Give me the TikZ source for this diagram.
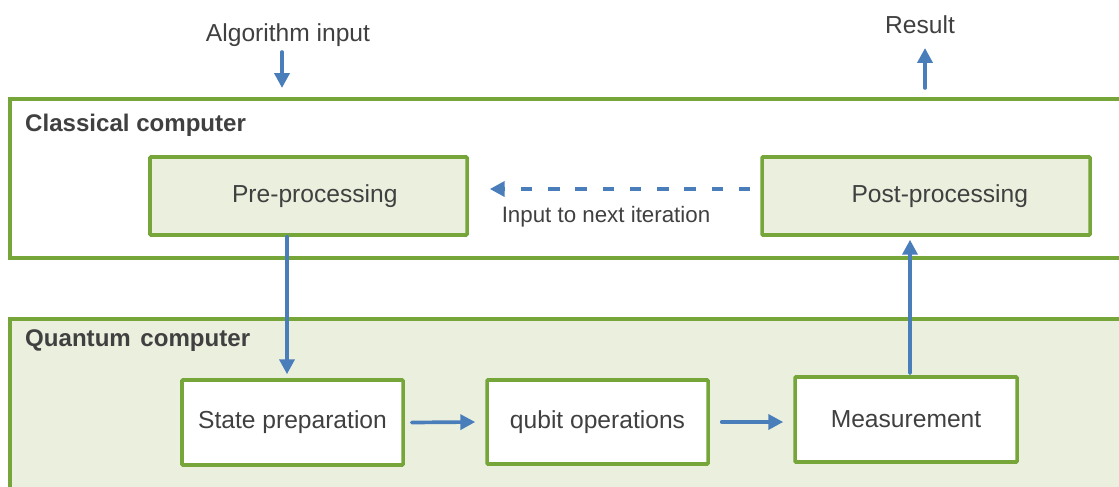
\documentclass[tikz,border=0pt]{standalone}
\usepackage{fontspec}
\setmainfont{Liberation Sans}
\usetikzlibrary{arrows.meta}
\begin{document}
\begin{tikzpicture}[>={Triangle[length=8.5pt,width=8.5pt]}, line cap=round]
  \definecolor{dgreen}{HTML}{76A53A}
  \definecolor{lgreen}{HTML}{EBF0DE}
  \definecolor{dblue}{HTML}{4A7EBB}
  \definecolor{dtext}{HTML}{404040}
  \tikzset{
    procbox/.style={draw=dgreen, line width=2pt, fill=lgreen, text=dtext, font=\fontsize{14}{16}\selectfont, rounded corners=0.5pt},
    qbox/.style={procbox, fill=white},
    flow/.style={->, draw=dblue, line width=2.1pt},
    lbl/.style={text=dtext, font=\fontsize{14}{16}\selectfont},
    head/.style={text=dtext, font=\bfseries\fontsize{13.7}{16}\selectfont, anchor=west}
  }
  \clip (0,0) rectangle (22.38,9.72);
  % the two computers
  \draw[draw=dgreen, line width=2pt, fill=white] (0.2,4.56) rectangle (23,7.74);
  \draw[draw=dgreen, line width=2pt, fill=lgreen] (0.2,-1) rectangle (23,3.34);
  \node[head] (clab) at (0.38,7.22) {Classical computer};
  \node[head] (qlab) at (0.38,2.9) {Quantum\hspace{0.12em} computer};
  % classical steps
  \node[procbox, minimum width=6.34cm, minimum height=1.56cm] (pre) at (6.17,5.8) {\hspace*{0.25cm}Pre-processing};
  \node[procbox, minimum width=6.56cm, minimum height=1.56cm] (post) at (18.52,5.8) {\hspace*{0.55cm}Post-processing};
  % quantum steps
  \node[qbox, minimum width=4.42cm, minimum height=1.7cm] (state) at (5.85,1.27) {State preparation};
  \node[qbox, minimum width=4.42cm, minimum height=1.68cm] (qops) at (11.95,1.28) {qubit operations};
  \node[qbox, minimum width=4.44cm, minimum height=1.7cm] (meas) at (18.12,1.33) {Measurement};
  % input and result
  \node[lbl] (algin) at (5.76,9.02) {Algorithm input};
  \node[lbl] (res) at (18.4,9.22) {Result};
  \coordinate (inA) at (5.64,8.68);
  \coordinate (inB) at (5.64,7.96);
  \coordinate (outA) at (18.5,7.96);
  \coordinate (outB) at (18.5,8.76);
  \draw[flow] (inA) -- (inB);
  \draw[flow] (outA) -- (outB);
  % connectors
  \draw[flow, dash pattern=on 6.5pt off 9pt, line cap=butt] ([xshift=-0.2cm]post.west |- 0,5.94) -- ([xshift=0.42cm]pre.east |- 0,5.94);
  \node[lbl, font=\fontsize{12.7}{15}\selectfont] (iter) at (12.12,5.38) {Input to next iteration};
  \draw[flow] ([xshift=-0.43cm]pre.south) -- ([xshift=-0.11cm, yshift=0.08cm]state.north);
  \draw[flow] ([xshift=0.08cm, yshift=0.04cm]meas.north) -- ([xshift=-0.32cm, yshift=-0.06cm]post.south);
  \draw[flow] ([xshift=0.14cm]state.east) -- ([xshift=-0.2cm]qops.west);
  \draw[flow] ([xshift=0.24cm]qops.east |- 0,1.28) -- ([xshift=-0.2cm]meas.west |- 0,1.28);
\end{tikzpicture}
\end{document}
